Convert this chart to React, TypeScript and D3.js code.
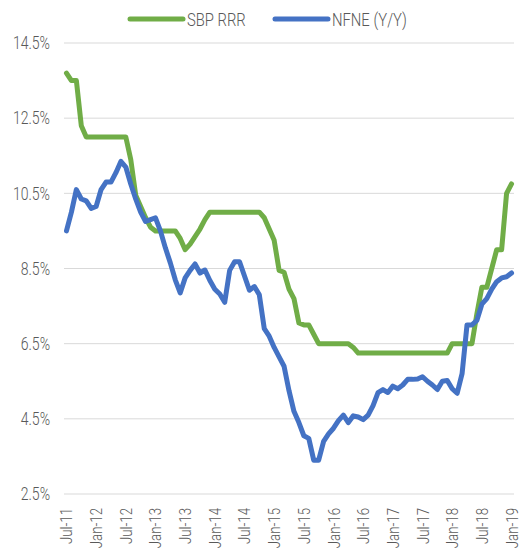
import React from 'react';
import * as d3 from 'd3';

// monthly observations, Jul-11 .. Jan-19
const months = d3.timeMonth.range(new Date(2011, 6, 1), new Date(2019, 1, 1));

const sbpRRR = [
  13.7, 13.5, 13.5, 12.3, 12, 12, 12, 12, 12, 12, 12, 12, 12,
  11.4, 10.45, 10.15, 9.85, 9.6, 9.5, 9.5, 9.5, 9.5, 9.5,
  9.3, 9.0, 9.15, 9.35, 9.55, 9.8,
  10, 10, 10, 10, 10, 10, 10, 10, 10, 10, 10,
  9.85, 9.55, 9.25, 8.45, 8.4, 7.95, 7.7, 7.05, 7.0, 7.0, 6.75,
  6.5, 6.5, 6.5, 6.5, 6.5, 6.5, 6.5, 6.4,
  6.25, 6.25, 6.25, 6.25, 6.25, 6.25, 6.25, 6.25, 6.25, 6.25,
  6.25, 6.25, 6.25, 6.25, 6.25, 6.25, 6.25, 6.25, 6.25,
  6.5, 6.5, 6.5, 6.5, 6.5,
  7.3, 8.0, 8.0, 8.5, 9.0, 9.0, 10.5, 10.75,
];

const nfne = [
  9.5, 10.0, 10.6, 10.35, 10.3, 10.1, 10.15, 10.6, 10.8, 10.8, 11.05, 11.35, 11.2,
  10.75, 10.35, 10.0, 9.75, 9.8, 9.85, 9.5, 9.05, 8.65, 8.2, 7.85,
  8.25, 8.45, 8.62, 8.38, 8.46, 8.18, 7.95, 7.82, 7.6, 8.45, 8.68, 8.68,
  8.3, 7.92, 8.02, 7.8, 6.9, 6.7, 6.4, 6.15, 5.9, 5.25, 4.7, 4.4,
  4.05, 3.98, 3.4, 3.4, 3.9, 4.1, 4.25, 4.45, 4.6, 4.4, 4.58, 4.55,
  4.48, 4.6, 4.85, 5.2, 5.28, 5.2, 5.37, 5.3, 5.4, 5.55, 5.55, 5.56,
  5.62, 5.5, 5.4, 5.28, 5.5, 5.52, 5.3, 5.18, 5.7, 7.0, 7.0, 7.12,
  7.55, 7.7, 7.95, 8.15, 8.25, 8.28, 8.38,
];

const yTicks = [2.5, 4.5, 6.5, 8.5, 10.5, 12.5, 14.5];
const tickLabels = [
  'Jul-11', 'Jan-12', 'Jul-12', 'Jan-13', 'Jul-13', 'Jan-14', 'Jul-14', 'Jan-15',
  'Jul-15', 'Jan-16', 'Jul-16', 'Jan-17', 'Jul-17', 'Jan-18', 'Jul-18', 'Jan-19',
];

const series = [
  { name: 'SBP RRR', values: sbpRRR, color: '#70ad47' },
  { name: 'NFNE (Y/Y)', values: nfne, color: '#4472c4' },
];

const width = 521;
const height = 555;
const margin = { top: 43, right: 7, bottom: 61, left: 64 };
const font = 'Roboto, sans-serif';
const squeeze = 'scale(0.78,1)'; // narrow look of the original font

export default function App() {
  const x = d3.scalePoint<number>()
    .domain(months.map((_, i) => i))
    .range([margin.left, width - margin.right])
    .padding(0.5);

  const y = d3.scaleLinear()
    .domain([2.5, 14.5])
    .range([height - margin.bottom, margin.top]);

  const line = d3.line<number>()
    .x((_, i) => x(i) as number)
    .y(d => y(d));

  const tickIdx = tickLabels.map((_, k) => k * 6);

  return (
    <svg width={width} height={height}
      style={{ position: 'absolute', left: 0, top: 0, background: '#fff' }}>
      {/* gridlines */}
      {yTicks.map(t => (
        <line key={t} x1={margin.left} x2={width - margin.right}
          y1={y(t)} y2={y(t)} stroke="#d9d9d9" strokeWidth={1} />
      ))}
      {/* y labels */}
      {yTicks.map(t => (
        <text key={'l' + t} transform={`translate(50,${y(t)}) ${squeeze}`} dy="0.35em" textAnchor="end"
          fontFamily={font} fontWeight={300} fontSize={18} fill="#595959">
          {t.toFixed(1) + '%'}
        </text>
      ))}
      {/* x labels */}
      {tickIdx.map((idx, k) => (
        <text key={'x' + k}
          transform={`translate(${(x(idx) as number) + 6},${height - margin.bottom + 14}) rotate(-90) ${squeeze}`}
          textAnchor="end" fontFamily={font} fontWeight={300} fontSize={17} fill="#595959">
          {tickLabels[k]}
        </text>
      ))}
      {/* series */}
      {series.map(s => (
        <path key={s.name} d={line(s.values) || ''} fill="none" stroke={s.color}
          strokeWidth={5} strokeLinejoin="round" strokeLinecap="round" />
      ))}
      {/* legend */}
      {series.map((s, k) => (
        <g key={'lg' + k} transform={`translate(${130 + k * 145},19)`}>
          <line x1={0} x2={53} y1={0} y2={0} stroke={s.color} strokeWidth={5} strokeLinecap="round" />
          <text transform={`translate(57,0) ${squeeze}`} dy="0.35em"
            fontFamily={font} fontWeight={300} fontSize={19} fill="#595959">{s.name}</text>
        </g>
      ))}
    </svg>
  );
}
